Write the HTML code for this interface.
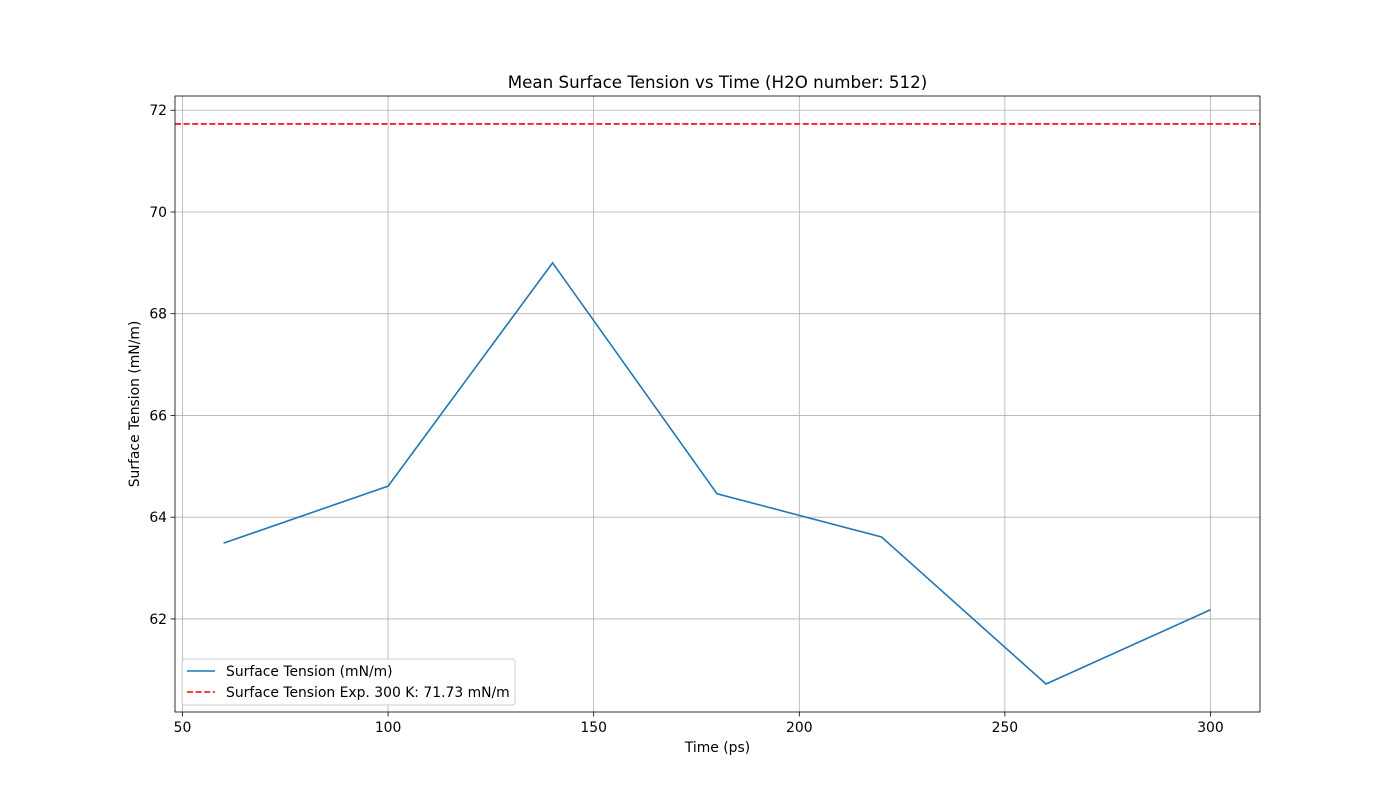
<!DOCTYPE html>
<html><head><meta charset="utf-8"><style>
html,body{margin:0;padding:0;background:#fff;}
svg{display:block;font-family:"DejaVu Sans","Liberation Sans",sans-serif;}
</style></head><body>
<svg id="chart" width="1400" height="800" xmlns="http://www.w3.org/2000/svg"></svg>
<script>
const times = [60, 100, 140, 180, 220, 260, 300];
const tensions = [63.49, 64.61, 69.0, 64.46, 63.61, 60.72, 62.18];
const expValue = 71.73;
const xTicks = [50, 100, 150, 200, 250, 300];
const yTicks = [62, 64, 66, 68, 70, 72];

const L=175,R=1260,T=96,B=712;
const xMin=48.18,xMax=312.04,yMin=60.17,yMax=72.28;
const sx=v=>L+(v-xMin)/(xMax-xMin)*(R-L);
const sy=v=>B-(v-yMin)/(yMax-yMin)*(B-T);
const svg=document.getElementById('chart');
const NS='http://www.w3.org/2000/svg';
function mk(tag,attrs,parent){const e=document.createElementNS(NS,tag);for(const k in attrs)e.setAttribute(k,attrs[k]);(parent||svg).appendChild(e);return e;}
const FS=13.9;

const grid=mk('g',{});


xTicks.forEach(t=>{
  const x=sx(t);
  mk('line',{x1:x,x2:x,y1:T,y2:B,stroke:'#b0b0b0','stroke-width':0.8},grid);
  mk('line',{x1:x,x2:x,y1:B,y2:B+4.5,stroke:'#000','stroke-width':0.8});
  const tx=mk('text',{x:x,y:B+20,'font-size':FS,'text-anchor':'middle'});
  tx.textContent=t;
  
  
});
yTicks.forEach(t=>{
  const y=sy(t);
  mk('line',{x1:L,x2:R,y1:y,y2:y,stroke:'#b0b0b0','stroke-width':0.8},grid);
  mk('line',{x1:L-4.5,x2:L,y1:y,y2:y,stroke:'#000','stroke-width':0.8});
  const tx=mk('text',{x:L-8,y:y+5,'font-size':FS,'text-anchor':'end'});
  tx.textContent=t;
  
  
});

const ey=sy(expValue);
const ref=mk('line',{x1:L,x2:R,y1:ey,y2:ey,stroke:'#ff0000','stroke-width':1.6,'stroke-dasharray':'6,2.6'});



const pts=times.map((t,i)=>sx(t)+','+sy(tensions[i])).join(' ');
const line=mk('polyline',{points:pts,fill:'none',stroke:'#1f77b4','stroke-width':1.6});



const frame=mk('rect',{x:L,y:T,width:R-L,height:B-T,fill:'none',stroke:'#000','stroke-width':0.8});



const title=mk('text',{x:(L+R)/2,y:88,'font-size':16.7,'text-anchor':'middle'});
title.textContent='Mean Surface Tension vs Time (H2O number: 512)';


const xl=mk('text',{x:(L+R)/2,y:752,'font-size':FS,'text-anchor':'middle'});
xl.textContent='Time (ps)';


const yl=mk('text',{x:0,y:0,'font-size':FS,'text-anchor':'middle',transform:'translate(139,404) rotate(-90)'});
yl.textContent='Surface Tension (mN/m)';



const lg=mk('g',{});


mk('rect',{x:182,y:659,width:333,height:46,rx:3,fill:'#fff','fill-opacity':0.8,stroke:'#ccc','stroke-width':1},lg);
mk('line',{x1:187,x2:215,y1:671,y2:671,stroke:'#1f77b4','stroke-width':1.6},lg);
mk('line',{x1:187,x2:215,y1:692,y2:692,stroke:'#ff0000','stroke-width':1.6,'stroke-dasharray':'6,2.6'},lg);
const l1=mk('text',{x:226,y:676,'font-size':FS},lg);
l1.textContent='Surface Tension (mN/m)';


const l2=mk('text',{x:226,y:697,'font-size':FS},lg);
l2.textContent='Surface Tension Exp. 300 K: 71.73 mN/m';


</script>
</body></html>
